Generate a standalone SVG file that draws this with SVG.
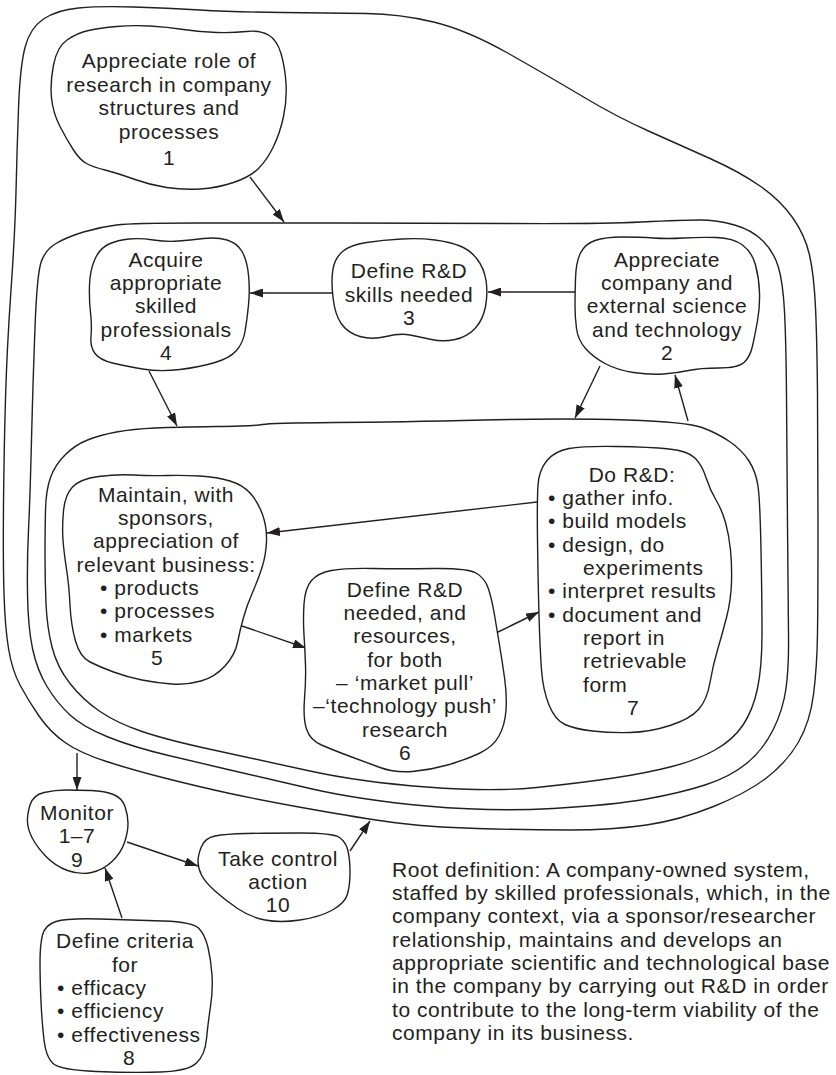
<svg xmlns="http://www.w3.org/2000/svg" width="836" height="1075" viewBox="0 0 836 1075">
<defs>
<marker id="ah" markerUnits="userSpaceOnUse" markerWidth="13" markerHeight="9" viewBox="0 0 13 9" refX="13" refY="4.5" orient="auto"><path d="M0,0 L13,4.5 L0,9 Z" fill="#231f20"/></marker>
</defs>
<style>
.b{fill:none;stroke:#231f20;stroke-width:1.4}
.n{fill:#fff;stroke:#231f20;stroke-width:1.4}
.c{fill:none;stroke:#231f20;stroke-width:1.4;marker-end:url(#ah)}
text{font-family:"Liberation Sans",Arial,sans-serif;font-size:21px;letter-spacing:0.55px;fill:#231f20}
.m{text-anchor:middle}
</style>
<rect width="836" height="1075" fill="#fff"/>
<g id="boundaries">
<path class="b" d="M18.5,108.5 Q20,67 25,47.5 Q30,28 43.5,19 Q57,10 78.5,8 Q100,6 133.5,7 Q167,8 200,10 Q233,12 283,12.5 Q333,13 366.5,13.5 Q400,14 433.5,22 Q467,30 508.5,53.5 Q550,77 583.5,97 Q617,117 648.5,131 Q680,145 710,158.5 Q740,172 760,186 Q780,200 792.5,217.5 Q805,235 809.5,255 Q814,275 815.5,307.5 Q817,340 817.5,395 Q818,450 818,525 Q818,600 817.5,633.5 Q817,667 813.5,694.5 Q810,722 798.5,742 Q787,762 767,777.5 Q747,793 713.5,806.5 Q680,820 646.5,825 Q613,830 570,830 Q527,830 477,828.5 Q427,827 393.5,822.5 Q360,818 310,809 Q260,800 230,793.5 Q200,787 166.5,778.5 Q133,770 106.5,761.5 Q80,753 65,742.5 Q50,732 39,716 Q28,700 20,685 Q12,670 8.5,648.5 Q5,627 4,593.5 Q3,560 3.5,505 Q4,450 5.5,398.5 Q7,347 11,290 Q15,233 16,191.5 Q17,150 18.5,108.5 Z"/>
<path class="b" d="M35,327.5 Q37,275 41,262.5 Q45,250 56,243.5 Q67,237 83.5,232 Q100,227 116.5,225 Q133,223 196.5,223 Q260,223 340,223 Q420,223 510,223.5 Q600,224 641.5,222 Q683,220 700,220 Q717,220 734.5,225 Q752,230 763,241 Q774,252 778.5,267.5 Q783,283 784.5,311.5 Q786,340 786.5,395 Q787,450 787.5,525 Q788,600 788.5,633.5 Q789,667 786,688.5 Q783,710 773,730 Q763,750 746.5,763.5 Q730,777 705,785 Q680,793 646.5,799 Q613,805 553,808.5 Q493,812 426.5,806 Q360,800 310,788.5 Q260,777 230,770 Q200,763 166.5,755 Q133,747 108,737 Q83,727 70,715 Q57,703 47,686.5 Q37,670 32.5,648.5 Q28,627 27.5,593.5 Q27,560 28.5,530 Q30,500 31.5,440 Q33,380 35,327.5 Z"/>
<path class="b" d="M45,555 Q45,530 45.5,510 Q46,490 50.5,477.5 Q55,465 65,455 Q75,445 87.5,440 Q100,435 116.5,432 Q133,429 155,428 Q177,427 216,426.5 Q255,426 262.5,424.5 Q270,423 335,422.5 Q400,422 483.5,420 Q567,418 627,420 Q687,422 702,427.5 Q717,433 729.5,441.5 Q742,450 749,461 Q756,472 758,486 Q760,500 761,550 Q762,600 762,633.5 Q762,667 757.5,688.5 Q753,710 743,725 Q733,740 715,750 Q697,760 672,766.5 Q647,773 613.5,778 Q580,783 536.5,787.5 Q493,792 426.5,787 Q360,782 310,771 Q260,760 213.5,750 Q167,740 142,731.5 Q117,723 100,711.5 Q83,700 70,683.5 Q57,667 52,647 Q47,627 46,603.5 Q45,580 45,555 Z"/>
</g>
<g id="connectors">
<line class="c" x1="250" y1="177" x2="284" y2="222"/>
<line class="c" x1="332" y1="293" x2="250" y2="293"/>
<line class="c" x1="575" y1="292" x2="488" y2="292"/>
<line class="c" x1="149" y1="371" x2="177" y2="426"/>
<line class="c" x1="600" y1="366" x2="575" y2="418"/>
<line class="c" x1="688" y1="421" x2="675" y2="375"/>
<line class="c" x1="537" y1="502" x2="267" y2="533"/>
<line class="c" x1="242" y1="626" x2="306" y2="648"/>
<line class="c" x1="496" y1="633" x2="539" y2="612"/>
<line class="c" x1="77" y1="753" x2="77" y2="790"/>
<line class="c" x1="127" y1="842" x2="198" y2="866"/>
<line class="c" x1="350" y1="851" x2="370" y2="821"/>
<line class="c" x1="122" y1="918" x2="105" y2="868"/>
</g>
<g id="node1">
<path class="n" d="M51.5,98 Q50,83 53.5,65 Q57,47 67,40 Q77,33 88.5,30.5 Q100,28 116.5,26.5 Q133,25 150,26 Q167,27 183.5,29.5 Q200,32 216.5,32.5 Q233,33 246.5,31.5 Q260,30 268.5,35 Q277,40 281,53.5 Q285,67 286,83.5 Q287,100 283.5,116.5 Q280,133 273.5,146.5 Q267,160 258.5,168.5 Q250,177 233.5,182.5 Q217,188 200,189 Q183,190 166.5,187.5 Q150,185 133.5,179 Q117,173 105,170 Q93,167 86.5,163.5 Q80,160 73.5,150 Q67,140 60,126.5 Q53,113 51.5,98 Z"/>
<text class="m"><tspan x="169" y="68">Appreciate role of</tspan><tspan x="169" y="91.5">research in company</tspan><tspan x="169" y="115">structures and</tspan><tspan x="169" y="138.5">processes</tspan><tspan x="169" y="165">1</tspan></text>
</g>
<g id="node4">
<path class="n" d="M90.5,312.5 Q89,300 89.5,285 Q90,270 95,259 Q100,248 109,244 Q118,240 129,239 Q140,238 153.5,240 Q167,242 178.5,241 Q190,240 203.5,238.5 Q217,237 227,240 Q237,243 242,251.5 Q247,260 248.5,275 Q250,290 248.5,305 Q247,320 245,331.5 Q243,343 236.5,350.5 Q230,358 215,362.5 Q200,367 180,369.5 Q160,372 142.5,369 Q125,366 112.5,363 Q100,360 95,353.5 Q90,347 91,336 Q92,325 90.5,312.5 Z"/>
<text class="m"><tspan x="166" y="267">Acquire</tspan><tspan x="166" y="290">appropriate</tspan><tspan x="166" y="313">skilled</tspan><tspan x="166" y="337">professionals</tspan><tspan x="166" y="360">4</tspan></text>
</g>
<g id="node3">
<path class="n" d="M333,297.5 Q331,280 333,269 Q335,258 342.5,251.5 Q350,245 366.5,242.5 Q383,240 401.5,239 Q420,238 435,240 Q450,242 460,246 Q470,250 477,259 Q484,268 486,280.5 Q488,293 485.5,306.5 Q483,320 475,328.5 Q467,337 455,339.5 Q443,342 431.5,339.5 Q420,337 410,335 Q400,333 386,336.5 Q372,340 360,336.5 Q348,333 341.5,324 Q335,315 333,297.5 Z"/>
<text class="m"><tspan x="409" y="278">Define R&amp;D</tspan><tspan x="409" y="302">skills needed</tspan><tspan x="409" y="325">3</tspan></text>
</g>
<g id="node2">
<path class="n" d="M575,306 Q575,295 575.5,278.5 Q576,262 580.5,253 Q585,244 595,240.5 Q605,237 622.5,237 Q640,237 653.5,238 Q667,239 683.5,238 Q700,237 716.5,237.5 Q733,238 742.5,245 Q752,252 755.5,265 Q759,278 759.5,292.5 Q760,307 757.5,321 Q755,335 752.5,346 Q750,357 744,362.5 Q738,368 719,368 Q700,368 688.5,370.5 Q677,373 663.5,374 Q650,375 633.5,372.5 Q617,370 605,363.5 Q593,357 585.5,348.5 Q578,340 576.5,328.5 Q575,317 575,306 Z"/>
<text class="m"><tspan x="667" y="267">Appreciate</tspan><tspan x="667" y="290">company and</tspan><tspan x="667" y="313">external science</tspan><tspan x="667" y="337">and technology</tspan><tspan x="667" y="360">2</tspan></text>
</g>
<g id="node5">
<path class="n" d="M63,540 Q62,527 63.5,511 Q65,495 72.5,487 Q80,479 98.5,476.5 Q117,474 133.5,475 Q150,476 166.5,475.5 Q183,475 200,476 Q217,477 230,481 Q243,485 250.5,493.5 Q258,502 262.5,514.5 Q267,527 266.5,541 Q266,555 262,567.5 Q258,580 252.5,592.5 Q247,605 243.5,617.5 Q240,630 237.5,642.5 Q235,655 225,666 Q215,677 201,681 Q187,685 172,684 Q157,683 142,680 Q127,677 113.5,672 Q100,667 90,662 Q80,657 75.5,641 Q71,625 70,605 Q69,585 66.5,569 Q64,553 63,540 Z"/>
<text class="m"><tspan x="166" y="502">Maintain, with</tspan><tspan x="166" y="525">sponsors,</tspan><tspan x="166" y="548">appreciation of</tspan><tspan x="166" y="572">relevant business:</tspan></text>
<text><tspan x="100" y="595">• products</tspan><tspan x="100" y="618">• processes</tspan><tspan x="100" y="642">• markets</tspan></text>
<text class="m" x="157" y="665">5</text>
</g>
<g id="node6">
<path class="n" d="M304,635 Q303,620 304,604 Q305,588 311.5,580.5 Q318,573 331.5,570.5 Q345,568 372.5,568.5 Q400,569 433.5,568.5 Q467,568 476,573 Q485,578 488.5,589 Q492,600 494.5,615 Q497,630 499.5,645 Q502,660 504.5,677.5 Q507,695 506,710 Q505,725 499,736 Q493,747 479,753.5 Q465,760 447.5,765 Q430,770 412.5,771.5 Q395,773 380,767.5 Q365,762 349,756 Q333,750 321.5,745 Q310,740 306.5,729 Q303,718 304.5,699 Q306,680 305.5,665 Q305,650 304,635 Z"/>
<text class="m"><tspan x="405" y="597">Define R&amp;D</tspan><tspan x="405" y="620">needed, and</tspan><tspan x="405" y="643">resources,</tspan><tspan x="405" y="667">for both</tspan><tspan x="405" y="690">– ‘market pull’</tspan><tspan x="405" y="713">–‘technology push’</tspan><tspan x="405" y="737">research</tspan><tspan x="405" y="760">6</tspan></text>
</g>
<g id="node7">
<path class="n" d="M537.5,540 Q537,500 538,485 Q539,470 547,460.5 Q555,451 569,448.5 Q583,446 616.5,446.5 Q650,447 669,449 Q688,451 695,458 Q702,465 706,477.5 Q710,490 716,500 Q722,510 725.5,522.5 Q729,535 730.5,550 Q732,565 731.5,582.5 Q731,600 726.5,617.5 Q722,635 717.5,650 Q713,665 710,682.5 Q707,700 698.5,709.5 Q690,719 670,725.5 Q650,732 630,732.5 Q610,733 592.5,731 Q575,729 565,724.5 Q555,720 549,705 Q543,690 541.5,670 Q540,650 539,615 Q538,580 537.5,540 Z"/>
<text class="m" x="632" y="482">Do R&amp;D:</text>
<text><tspan x="548" y="505">• gather info.</tspan><tspan x="548" y="528">• build models</tspan><tspan x="548" y="552">• design, do</tspan><tspan x="583" y="575">experiments</tspan><tspan x="548" y="598">• interpret results</tspan><tspan x="548" y="622">• document and</tspan><tspan x="583" y="645">report in</tspan><tspan x="583" y="668">retrievable</tspan><tspan x="583" y="692">form</tspan></text>
<text class="m" x="633" y="715">7</text>
</g>
<g id="node9">
<path class="n" d="M27.5,822.5 Q27,815 30,805 Q33,795 44,792.5 Q55,790 66,790 Q77,790 91,790.5 Q105,791 113.5,794.5 Q122,798 125,806.5 Q128,815 128,823.5 Q128,832 124.5,842.5 Q121,853 112,861.5 Q103,870 91.5,872.5 Q80,875 67.5,870.5 Q55,866 46,856.5 Q37,847 32.5,838.5 Q28,830 27.5,822.5 Z"/>
<text class="m"><tspan x="77" y="820">Monitor</tspan><tspan x="77" y="843">1–7</tspan><tspan x="77" y="867">9</tspan></text>
</g>
<g id="node10">
<path class="n" d="M198,861.5 Q198,855 201.5,846.5 Q205,838 215,836 Q225,834 246,833.5 Q267,833 300,833 Q333,833 339.5,837.5 Q346,842 348,851 Q350,860 350,872.5 Q350,885 347.5,894 Q345,903 332.5,910 Q320,917 300,920 Q280,923 265,920 Q250,917 237.5,908.5 Q225,900 215,891 Q205,882 201.5,875 Q198,868 198,861.5 Z"/>
<text class="m"><tspan x="278" y="866">Take control</tspan><tspan x="278" y="889">action</tspan><tspan x="278" y="912">10</tspan></text>
</g>
<g id="node8">
<path class="n" d="M40,962.5 Q40,945 42.5,935 Q45,925 56,921.5 Q67,918 100,919 Q133,920 163,921 Q193,922 199,928.5 Q205,935 208,947.5 Q211,960 212,975 Q213,990 210.5,1006.5 Q208,1023 206.5,1039 Q205,1055 196.5,1063 Q188,1071 160.5,1072 Q133,1073 96.5,1071.5 Q60,1070 53,1063.5 Q46,1057 44,1040 Q42,1023 41,1001.5 Q40,980 40,962.5 Z"/>
<text class="m"><tspan x="125" y="948">Define criteria</tspan><tspan x="125" y="972">for</tspan></text>
<text><tspan x="57" y="995">• efficacy</tspan><tspan x="57" y="1018">• efficiency</tspan><tspan x="57" y="1042">• effectiveness</tspan></text>
<text class="m" x="129" y="1065">8</text>
</g>
<g id="root-definition">
<text><tspan x="392" y="877">Root definition: A company-owned system,</tspan><tspan x="392" y="900">staffed by skilled professionals, which, in the</tspan><tspan x="392" y="923">company context, via a sponsor/researcher</tspan><tspan x="392" y="947">relationship, maintains and develops an</tspan><tspan x="392" y="970">appropriate scientific and technological base</tspan><tspan x="392" y="993">in the company by carrying out R&amp;D in order</tspan><tspan x="392" y="1017">to contribute to the long-term viability of the</tspan><tspan x="392" y="1040">company in its business.</tspan></text>
</g>
</svg>
